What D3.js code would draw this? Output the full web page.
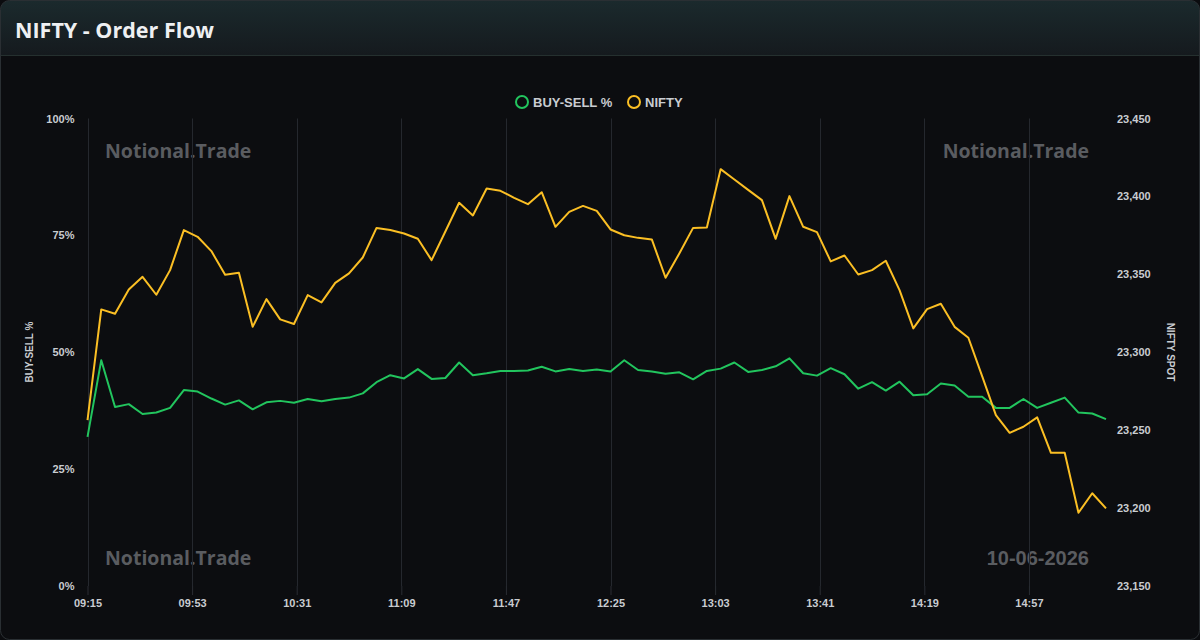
<!DOCTYPE html>
<meta charset="utf-8">
<style>
    body{ margin:0; background:#0b0c0f; }
    svg{ display:block; }
    .tick text{ font-family:"Liberation Sans", Arial, sans-serif; font-weight:bold; font-size:11px; fill:#c9ccd1; }
    .domain{ display:none; }
</style>
<body>
<svg id="chart" width="1200" height="640"></svg>
</body>
<script src="https://d3js.org/d3.v7.min.js"></script>
<script>
// 5-minute samples from 09:15
var startTime = "09:15";
var stepMin = 5;
var buySell = [31.9, 48.3, 38.3, 38.9, 36.8, 37.1, 38.1, 41.9, 41.6, 40.1,
               38.8, 39.7, 37.8, 39.3, 39.6, 39.2, 40.0, 39.5, 40.0, 40.3,
               41.2, 43.6, 45.1, 44.4, 46.4, 44.3, 44.5, 47.8, 45.1, 45.5,
               46.0, 46.0, 46.1, 46.9, 45.9, 46.4, 46.0, 46.3, 45.9, 48.3,
               46.2, 45.9, 45.4, 45.7, 44.2, 46.0, 46.5, 47.8, 45.8, 46.2,
               47.0, 48.7, 45.5, 45.0, 46.6, 45.3, 42.2, 43.6, 41.8, 43.7,
               40.8, 41.0, 43.3, 42.9, 40.5, 40.5, 38.1, 38.1, 40.0, 38.1,
               39.2, 40.3, 37.1, 36.9, 35.7];
var nifty = [23256.5, 23327.5, 23324.7, 23340.3, 23348.4, 23336.9, 23352.7, 23378.4, 23374.1, 23364.9,
             23349.7, 23351.0, 23316.3, 23334.1, 23321.1, 23318.1, 23336.7, 23332.0, 23344.5, 23350.6,
             23360.8, 23379.8, 23378.4, 23376.2, 23372.8, 23359.1, 23377.5, 23395.9, 23387.8, 23405.1,
             23403.6, 23399.1, 23395.0, 23402.7, 23380.5, 23390.1, 23393.9, 23390.7, 23378.8, 23375.1,
             23373.4, 23372.4, 23347.8, 23363.4, 23379.8, 23380.1, 23417.5, 23410.9, 23404.2, 23397.6,
             23372.8, 23400.2, 23380.5, 23377.1, 23358.3, 23362.1, 23349.9, 23352.7, 23358.7, 23339.9,
             23315.3, 23327.7, 23331.1, 23316.3, 23309.3, 23284.7, 23259.7, 23248.3, 23252.2, 23258.2,
             23235.5, 23235.5, 23197.0, 23209.5, 23199.8];
var xTickLabels = ["09:15", "09:53", "10:31", "11:09", "11:47", "12:25", "13:03", "13:41", "14:19", "14:57"];
var leftTicks = [0, 25, 50, 75, 100];
var rightTicks = [23150, 23200, 23250, 23300, 23350, 23400, 23450];
var seriesNames = ["BUY-SELL %", "NIFTY"];
var seriesColors = ["#22c55e", "#fbbf24"];

function toMin(s){ var p = s.split(":"); return (+p[0])*60 + (+p[1]); }
var t0 = toMin(startTime);
var times = buySell.map(function(d, i){ return t0 + i*stepMin; });

var svg = d3.select("#chart");
var defs = svg.append("defs");
var grad = defs.append("linearGradient").attr("id", "hdr").attr("x1", 0).attr("y1", 0).attr("x2", 0).attr("y2", 1);
grad.append("stop").attr("offset", "0%").attr("stop-color", "#1b2a2d");
grad.append("stop").attr("offset", "100%").attr("stop-color", "#151a1e");
defs.append("clipPath").attr("id", "card")
    .append("rect").attr("x", 0.5).attr("y", 0.5).attr("width", 1199).attr("height", 639).attr("rx", 9);

// card
var card = svg.append("g").attr("clip-path", "url(#card)");
card.append("rect").attr("width", 1200).attr("height", 640).attr("fill", "#0c0d10");
card.append("rect").attr("width", 1200).attr("height", 55).attr("fill", "url(#hdr)");
card.append("line").attr("x1", 0).attr("x2", 1200).attr("y1", 55.5).attr("y2", 55.5).attr("stroke", "#25302f");
svg.append("rect").attr("x", 0.5).attr("y", 0.5).attr("width", 1199).attr("height", 639).attr("rx", 9)
    .attr("fill", "none").attr("stroke", "#2a2f33");

svg.append("text").text("NIFTY - Order Flow")
    .attr("x", 15).attr("y", 38)
    .attr("font-family", "'Open Sans', sans-serif").attr("font-weight", "bold").attr("font-size", 21.5)
    .attr("fill", "#eef0f2");

var plotL = 87.5, plotR = 1106, plotT = 118.5, plotB = 586;
var x = d3.scaleLinear().domain([times[0], times[times.length-1]]).range([plotL, plotR]);
var yL = d3.scaleLinear().domain([0, 100]).range([plotB, plotT]);
var yR = d3.scaleLinear().domain([23150, 23450]).range([plotB, plotT]);

// watermarks
var wm = svg.append("g").attr("font-weight", "bold").attr("font-size", 19.5).attr("fill", "#5a5c60");
wm.append("text").text("Notional.Trade").attr("x", 105).attr("y", 158).attr("font-family", "'Open Sans', sans-serif");
wm.append("text").text("Notional.Trade").attr("x", 1089).attr("y", 158).attr("text-anchor", "end").attr("font-family", "'Open Sans', sans-serif");
wm.append("text").text("Notional.Trade").attr("x", 105).attr("y", 565).attr("font-family", "'Open Sans', sans-serif");
wm.append("text").text("10-06-2026").attr("x", 1089).attr("y", 565).attr("text-anchor", "end")
    .attr("font-size", 20).attr("font-family", "'Liberation Sans', Arial, sans-serif");

// x axis with vertical grid
var xTickVals = xTickLabels.map(toMin);
svg.append("g").selectAll("line").data(xTickVals).enter().append("line")
    .attr("x1", function(d){ return Math.round(x(d)) + 0.5; })
    .attr("x2", function(d){ return Math.round(x(d)) + 0.5; })
    .attr("y1", plotT).attr("y2", plotB)
    .attr("stroke", "#25282e");
var xAxis = svg.append("g").attr("transform", "translate(0," + plotB + ")")
    .call(d3.axisBottom(x).tickValues(xTickVals).tickSize(9).tickPadding(4)
        .tickFormat(function(d, i){ return xTickLabels[i]; }));
xAxis.selectAll(".tick line").attr("stroke", "#2a2d33");
xAxis.selectAll(".tick text").attr("font-size", 12);

// y axes
svg.append("g").attr("transform", "translate(" + plotL + ",0)")
    .call(d3.axisLeft(yL).tickValues(leftTicks).tickSize(0).tickPadding(13)
        .tickFormat(function(d){ return d + "%"; }));
svg.append("g").attr("transform", "translate(" + plotR + ",0)")
    .call(d3.axisRight(yR).tickValues(rightTicks).tickSize(0).tickPadding(11)
        .tickFormat(d3.format(",")));

svg.append("text").text("BUY-SELL %")
    .attr("transform", "translate(33,352) rotate(-90)").attr("text-anchor", "middle")
    .attr("font-family", "'Liberation Sans', Arial, sans-serif").attr("font-weight", "bold").attr("font-size", 10)
    .attr("fill", "#c9ccd1");
svg.append("text").text("NIFTY SPOT")
    .attr("transform", "translate(1167,352) rotate(90)").attr("text-anchor", "middle")
    .attr("font-family", "'Liberation Sans', Arial, sans-serif").attr("font-weight", "bold").attr("font-size", 10)
    .attr("fill", "#c9ccd1");

// lines
var lineL = d3.line().x(function(d, i){ return x(times[i]); }).y(function(d){ return yL(d); });
var lineR = d3.line().x(function(d, i){ return x(times[i]); }).y(function(d){ return yR(d); });
svg.append("path").datum(buySell).attr("d", lineL)
    .attr("fill", "none").attr("stroke", seriesColors[0]).attr("stroke-width", 2).attr("stroke-linejoin", "round");
svg.append("path").datum(nifty).attr("d", lineR)
    .attr("fill", "none").attr("stroke", seriesColors[1]).attr("stroke-width", 2).attr("stroke-linejoin", "round");

// legend
var legend = svg.append("g").attr("font-family", "'Liberation Sans', Arial, sans-serif")
    .attr("font-weight", "bold").attr("font-size", 13);
var lx = [522, 634];
seriesNames.forEach(function(name, i){
    legend.append("circle").attr("cx", lx[i]).attr("cy", 102).attr("r", 6)
        .attr("fill", "none").attr("stroke", seriesColors[i]).attr("stroke-width", 2);
    legend.append("text").text(name).attr("x", lx[i] + 11).attr("y", 106.5).attr("fill", "#c9ccd1");
});
</script>
